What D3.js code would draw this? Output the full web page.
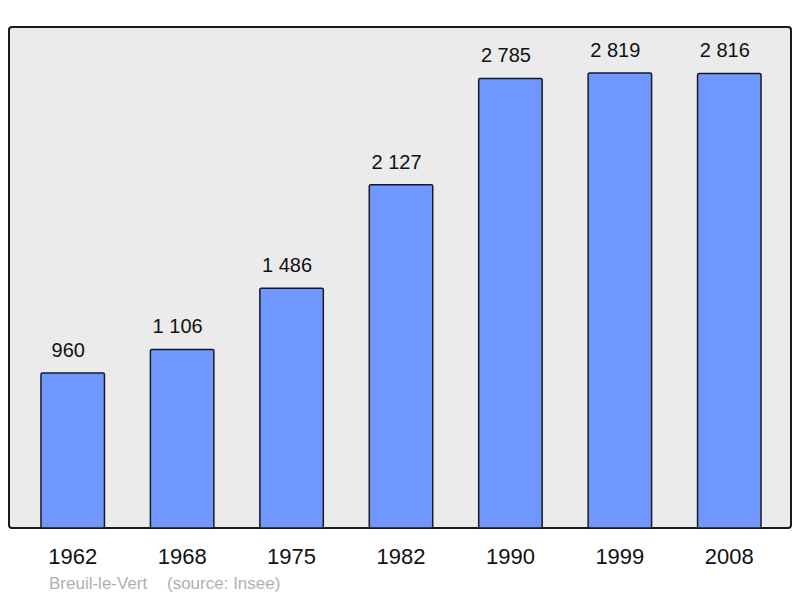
<!DOCTYPE html>
<html><head><meta charset="utf-8">
<script src="https://cdn.jsdelivr.net/npm/d3@7"></script>
<style>body{margin:0;background:#fff}svg{display:block}</style>
</head><body>
<script>
const years = ["1962","1968","1975","1982","1990","1999","2008"];
const population = [960, 1106, 1486, 2127, 2785, 2819, 2816];
const valueLabels = ["960","1 106","1 486","2 127","2 785","2 819","2 816"];
const place = "Breuil-le-Vert";
const source = "(source: Insee)";

const W = 800, H = 598;
const svg = d3.select("body").append("svg").attr("width", W).attr("height", H);

const plot = {x0: 9, y0: 27, x1: 791, y1: 528};
svg.append("rect")
  .attr("x", plot.x0).attr("y", plot.y0)
  .attr("width", plot.x1 - plot.x0).attr("height", plot.y1 - plot.y0)
  .attr("rx", 3).attr("fill", "#ebebeb").attr("stroke", "#1a1a1a").attr("stroke-width", 2);

const x = d3.scaleBand().domain(years).range([18, 784]).paddingInner(0.42).paddingOuter(0.21);
const y = d3.scaleLinear().domain([0, 2819]).range([plot.y1, 73]);

const data = years.map((yr, i) => ({yr, v: population[i], label: valueLabels[i]}));

svg.append("g").selectAll("rect").data(data).join("rect")
  .attr("x", d => x(d.yr)).attr("y", d => y(d.v))
  .attr("width", x.bandwidth()).attr("height", d => y(0) - y(d.v))
  .attr("rx", 1.5)
  .attr("fill", "#7097ff").attr("stroke", "#1a1a1a").attr("stroke-width", 1.5);

svg.append("g").selectAll("text").data(data).join("text")
  .attr("x", d => x(d.yr) + x.bandwidth() / 2 - 4.5).attr("y", d => y(d.v) - 16)
  .attr("text-anchor", "middle")
  .attr("font-family", "Liberation Sans, Arial, sans-serif").attr("font-size", 20)
  .attr("fill", "#111").text(d => d.label);

const xAxis = svg.append("g").attr("transform", `translate(0,${plot.y1})`)
  .call(d3.axisBottom(x).tickSize(0).tickPadding(0));
xAxis.select(".domain").remove();
xAxis.selectAll("text")
  .attr("dy", null).attr("y", 36)
  .attr("font-family", "Liberation Sans, Arial, sans-serif").attr("font-size", 22)
  .attr("fill", "#111");

svg.append("text").attr("x", 49).attr("y", 589)
  .attr("font-family", "Liberation Sans, Arial, sans-serif").attr("font-size", 17)
  .attr("fill", "#b0b0b0").text(place);
svg.append("text").attr("x", 167).attr("y", 589)
  .attr("font-family", "Liberation Sans, Arial, sans-serif").attr("font-size", 17)
  .attr("fill", "#b0b0b0").text(source);
</script>
</body></html>
